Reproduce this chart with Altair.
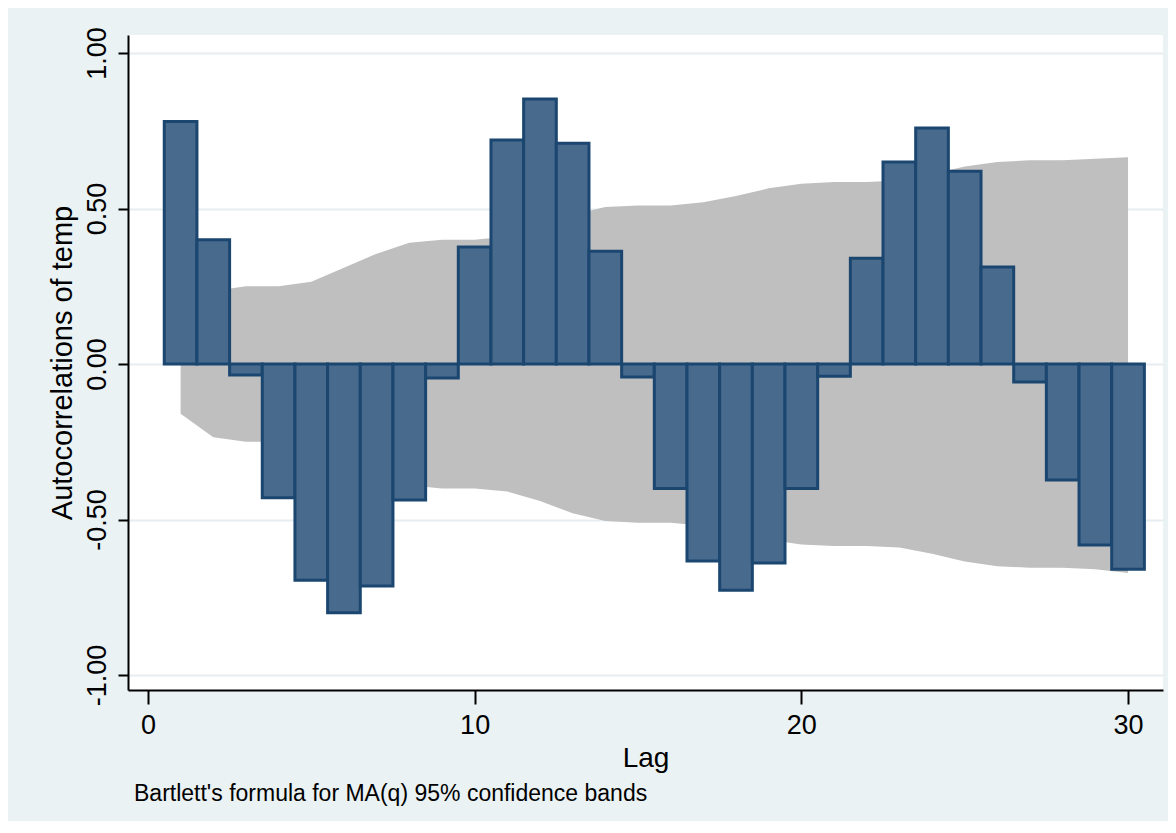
import altair as alt
import pandas as pd

lags = list(range(1, 31))
acf = [0.78, 0.40, -0.035, -0.43, -0.695, -0.80, -0.714, -0.437, -0.045, 0.376,
       0.72, 0.852, 0.71, 0.363, -0.042, -0.40, -0.633, -0.727, -0.64, -0.40,
       -0.039, 0.34, 0.65, 0.759, 0.62, 0.312, -0.058, -0.373, -0.582, -0.66]
band_upper = [0.16, 0.235, 0.25, 0.25, 0.265, 0.31, 0.355, 0.39, 0.40, 0.40,
              0.41, 0.44, 0.48, 0.505, 0.51, 0.51, 0.52, 0.54, 0.565, 0.58,
              0.585, 0.585, 0.59, 0.61, 0.635, 0.65, 0.655, 0.655, 0.66, 0.665]
band_lower = [-0.16, -0.235, -0.25, -0.25, -0.265, -0.31, -0.355, -0.39, -0.40, -0.40,
              -0.41, -0.44, -0.48, -0.505, -0.51, -0.51, -0.52, -0.54, -0.565, -0.58,
              -0.585, -0.585, -0.59, -0.61, -0.635, -0.65, -0.655, -0.655, -0.66, -0.672]
x_ticks = [0, 10, 20, 30]
y_ticks = [-1.0, -0.5, 0.0, 0.5, 1.0]

df = pd.DataFrame({"lag": lags, "acf": acf, "lo": band_lower, "hi": band_upper})
df["x0"] = df["lag"] - 0.5
df["x1"] = df["lag"] + 0.5
df["zero"] = 0.0

FONT = "Liberation Sans"
W, H = 1035, 655

xscale = alt.Scale(domain=[-0.61, 31.07], nice=False, zero=False)
yscale = alt.Scale(domain=[-1.048, 1.058], nice=False, zero=False)

xaxis = alt.Axis(values=x_ticks, format="d", title="Lag", grid=False,
                 tickSize=14, tickWidth=2, tickColor="black",
                 domainColor="black", domainWidth=2,
                 labelFontSize=27, labelFont=FONT, labelColor="black", labelPadding=8,
                 titleFontSize=28, titleFont=FONT, titleFontWeight="normal", titleColor="black",
                 titleY=76, titleBaseline="alphabetic")
yaxis = alt.Axis(values=y_ticks, title="Autocorrelations of temp",
                 labelExpr="replace(format(datum.value, '.2f'), '\u2212', '-')",
                 grid=True, gridColor="#e6eef1", gridWidth=2,
                 tickSize=10, tickWidth=2, tickColor="black",
                 domainColor="black", domainWidth=2,
                 labelFontSize=27, labelFont=FONT, labelColor="black",
                 labelAngle=270, labelAlign="center", labelBaseline="alphabetic", labelPadding=13,
                 titleFontSize=29, titleFont=FONT, titleFontWeight="normal", titleColor="black",
                 titleAngle=270, titleX=-66, titleY=H / 2, titleAlign="center", titleBaseline="middle")

band = alt.Chart(df).mark_area(color="#bfbfbf", opacity=1, interpolate="linear").encode(
    x=alt.X("lag:Q", scale=xscale, axis=xaxis),
    y=alt.Y("lo:Q", scale=yscale, axis=yaxis),
    y2="hi:Q",
)

bars = alt.Chart(df).mark_bar(fill="#486a8c", stroke="#1b4670", strokeWidth=3).encode(
    x=alt.X("x0:Q", scale=xscale),
    x2="x1:Q",
    y=alt.Y("zero:Q", scale=yscale),
    y2="acf:Q",
)

note = alt.Chart(pd.DataFrame({"t": ["Bartlett's formula for MA(q) 95% confidence bands"]})).mark_text(
    align="left", baseline="middle", fontSize=23, font=FONT, color="black"
).encode(text="t:N", x=alt.value(6), y=alt.value(759))

chart = alt.layer(band, bars, note).properties(
    width=W, height=H,
    autosize=alt.AutoSizeParams(type="none"),
    padding={"left": 120, "top": 27, "right": 5, "bottom": 131},
    background="#eaf2f3",
).configure_view(fill="white", stroke=None)

chart.save("out.html", embed_options={"renderer": "svg", "actions": False})
